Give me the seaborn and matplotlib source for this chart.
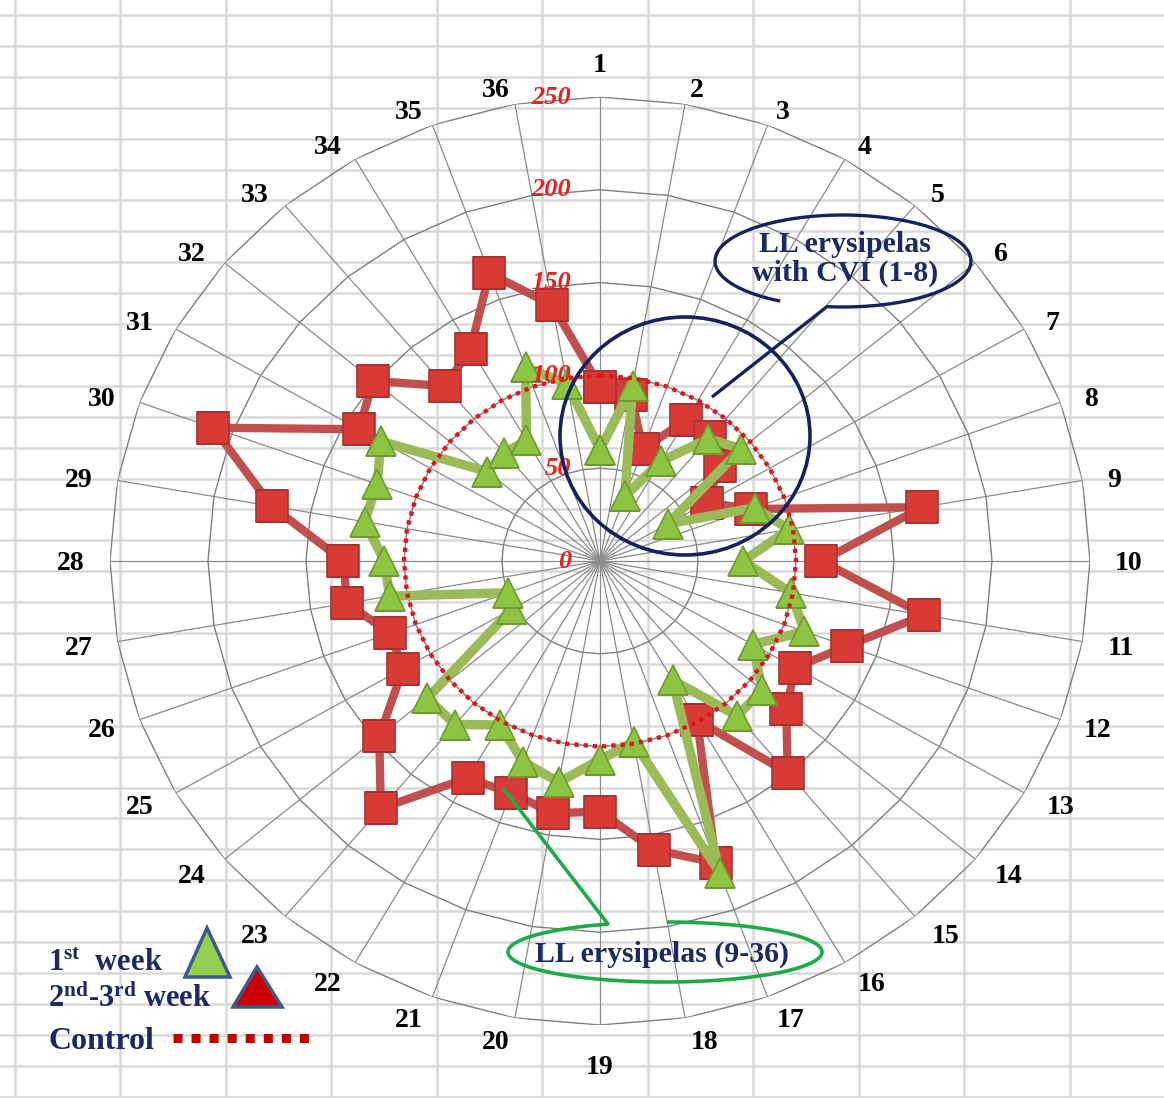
import numpy as np
import pandas as pd
import matplotlib
matplotlib.use("Agg")
import matplotlib.pyplot as plt
import seaborn as sns
from matplotlib.patches import Ellipse, Polygon

# ---------------- data ----------------
categories = [str(i) for i in range(1, 37)]
week1 = [60, 96, 37, 62, 86, 94, 40, 84, 98, 73, 99, 111, 90, 108, 109, 74, 179, 99,
         107, 121, 115, 102, 115, 115, 52, 50, 109, 110, 122, 121, 129, 75, 76, 75, 111, 97]
week2_3 = [94, 91, 64, 88, 87, 80, 63, 82, 167, 113, 168, 134, 115, 124, 149, 99, 173, 158,
           135, 138, 133, 135, 174, 147, 116, 114, 131, 131, 170, 210, 142, 151, 123, 132, 165, 140]
control = [100] * 36
r_ticks = [0, 50, 100, 150, 200, 250]
legend_labels = ["1$^{st}$  week", "2$^{nd}$-3$^{rd}$ week", "Control"]
callout_cvi = "LL erysipelas\nwith CVI (1-8)"
callout_ery = "LL erysipelas (9-36)"

# ---------------- style ----------------
sns.set_style("white")
plt.rcParams["font.family"] = ["Liberation Serif", "DejaVu Serif"]
plt.rcParams["mathtext.fontset"] = "custom"
plt.rcParams["mathtext.rm"] = "Liberation Serif:bold"
plt.rcParams["mathtext.it"] = "Liberation Serif:italic:bold"
plt.rcParams["mathtext.bf"] = "Liberation Serif:bold"
plt.rcParams["mathtext.default"] = "rm"

NAVY = "#1b2a66"
W, H = 1164, 1098
PT = 0.72  # points per pixel at 100 dpi
fig = plt.figure(figsize=(W / 100, H / 100), dpi=100, facecolor="white")

# spreadsheet-like background grid
bg = fig.add_axes([0, 0, 1, 1], zorder=-1)
bg.set_xlim(0, W)
bg.set_ylim(H, 0)
bg.axis("off")
for x in np.arange(14.5, W, 105.5):
    bg.axvline(x, color="#d9d9d9", lw=1.8)
for y in np.arange(15, H, 30.9):
    bg.axhline(y, color="#d9d9d9", lw=1.8)

# ---------------- radar axes ----------------
cx, cy, rx, ry = 600, 561, 490, 464
ax = fig.add_axes([(cx - rx) / W, 1 - (cy + ry) / H, 2 * rx / W, 2 * ry / H],
                  projection="polar")
ax.set_aspect("auto")
ax.set_facecolor("none")
ax.set_theta_zero_location("N")
ax.set_theta_direction(-1)

n = len(categories)
ang_deg = np.arange(n) * 360.0 / n
theta = np.deg2rad(ang_deg)
theta_c = np.append(theta, 2 * np.pi)
rmax = r_ticks[-1]

for r in r_ticks[1:]:
    ax.plot(theta_c, [r] * (n + 1), color="#7f7f7f", lw=1.0, zorder=1)
for t in theta:
    ax.plot([t, t], [0, rmax], color="#8a8a8a", lw=0.9, zorder=1)


def closed(v):
    return list(v) + [v[0]]


df = pd.DataFrame({
    "theta": np.concatenate([theta_c] * 3),
    "value": closed(week2_3) + closed(week1) + closed(control),
    "series": ["w23"] * (n + 1) + ["w1"] * (n + 1) + ["ctl"] * (n + 1),
})

sns.lineplot(data=df[df.series == "w23"], x="theta", y="value", ax=ax, sort=False,
             estimator=None, color="#c0504d", lw=6, marker="s", markersize=22.5,
             markerfacecolor="#d83b35", markeredgecolor="#a83232", markeredgewidth=1.2,
             zorder=3)
sns.lineplot(data=df[df.series == "w1"], x="theta", y="value", ax=ax, sort=False,
             estimator=None, color="#9bbb59", lw=6.8, marker="^", markersize=22,
             markerfacecolor="#8dc441", markeredgecolor="#6f9a30", markeredgewidth=1.2,
             zorder=4)
sns.lineplot(data=df[df.series == "ctl"], x="theta", y="value", ax=ax, sort=False,
             estimator=None, color="#e0161b", lw=3.1, linestyle=(0, (1, 1.15)), zorder=5)

ax.set_aspect("auto")
ax.set_ylim(0, rmax)
ax.grid(False)
ax.set_xticks([])
ax.set_yticks([])
ax.set_xlabel("")
ax.set_ylabel("")
ax.spines["polar"].set_visible(False)

for r in r_ticks:
    ax.annotate(str(r), xy=(0, r), xytext=(-21, 0), textcoords="offset points",
                ha="right", va="center", color="#e8201e", fontsize=19, style="italic",
                fontweight="bold", zorder=6)

# category labels placed just outside the outer ring (Excel-like placement)
for t, a, c in zip(theta, ang_deg, categories):
    s, co = np.sin(np.deg2rad(a)), np.cos(np.deg2rad(a))
    hw = 7.5 * len(c)
    dx = 0.0 if abs(s) < 1e-9 else np.sign(s) * hw + 24 * s
    if abs(co - 1) < 1e-9:
        dy = 35
    elif abs(co + 1) < 1e-9:
        dy = -40
    else:
        dy = 17 * co if co > 0 else 22 * co
    dy -= 3
    ax.annotate(c, xy=(t, rmax), xytext=(dx * PT, dy * PT), textcoords="offset points",
                ha="center", va="center", fontsize=20, fontweight="bold", color="black")

# ---------------- overlay: callouts & legend ----------------
ov = fig.add_axes([0, 0, 1, 1], zorder=5)
ov.set_xlim(0, W)
ov.set_ylim(H, 0)
ov.axis("off")
ov.patch.set_visible(False)

ov.add_patch(Ellipse((685, 436), 250, 238, fill=False, ec="#14215e", lw=2.6))


def callout(ecx, ecy, a, b, phi0, phi1, tip, **kw):
    ph = np.deg2rad(np.linspace(phi0, phi1, 300))
    pts = np.c_[ecx + a * np.cos(ph), ecy + b * np.sin(ph)]
    pts = np.vstack([pts, tip, pts[0]])
    ov.add_patch(Polygon(pts, closed=False, fill=False, joinstyle="round", **kw))


callout(843, 261, 128, 46, 119.4, 457.2, (712, 397), ec="#14215e", lw=2.4)
ov.text(845, 259, callout_cvi, ha="center", va="center", fontsize=21.5,
        fontweight="bold", color=NAVY, linespacing=1.08)

callout(665, 952, 157, 30, 270.7, 608.7, (503, 788), ec="#1faa4a", lw=2.6)
ov.text(662, 954, callout_ery, ha="center", va="center", fontsize=21.5,
        fontweight="bold", color=NAVY)

ov.text(48, 971, legend_labels[0], ha="left", va="baseline", fontsize=22,
        fontweight="bold", color=NAVY)
ov.text(48, 1007, legend_labels[1], ha="left", va="baseline", fontsize=22,
        fontweight="bold", color=NAVY)
ov.text(48, 1049, legend_labels[2], ha="left", va="baseline", fontsize=23,
        fontweight="bold", color=NAVY)
ov.add_patch(Polygon([(185, 977), (230, 977), (207, 928)], closed=True,
                     fc="#92d050", ec="#3d5a8c", lw=2.5))
ov.add_patch(Polygon([(233, 1007), (282, 1007), (257, 967)], closed=True,
                     fc="#cc0000", ec="#3d5a8c", lw=2.5))
ov.plot([173, 315], [1038, 1038], color="#c00000", lw=6.5, linestyle=(0, (1, 1)))

fig.savefig("out.png", dpi=100, facecolor="white")
